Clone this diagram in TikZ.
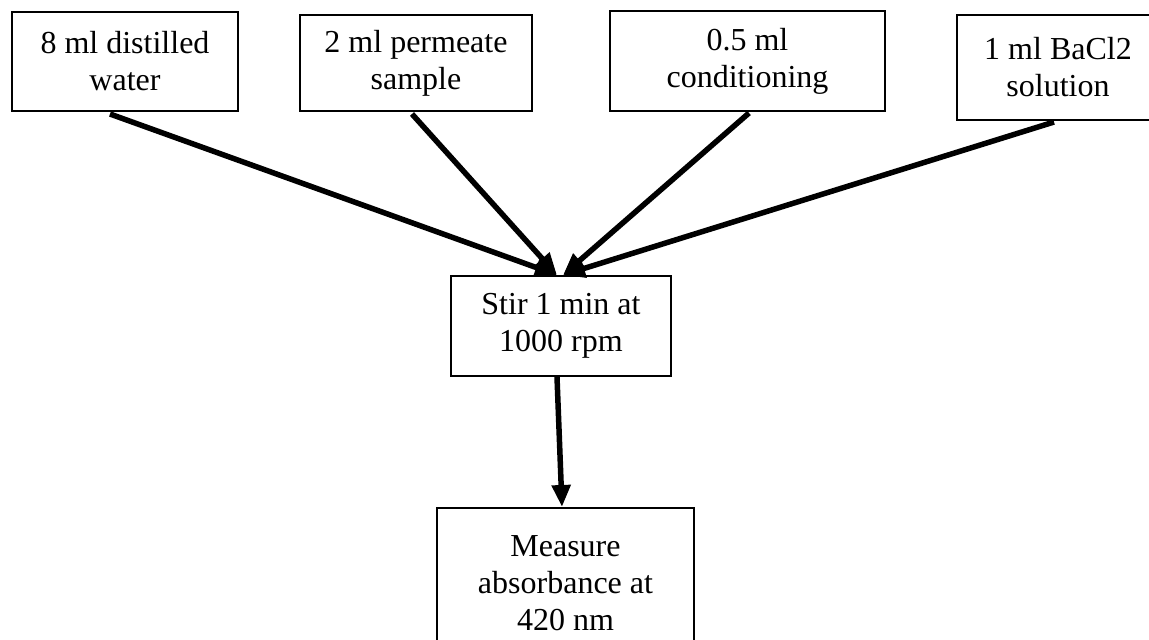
\documentclass[tikz,border=0pt]{standalone}
\usepackage{fontspec}
\setmainfont{Liberation Serif}
\usetikzlibrary{arrows.meta}

\begin{document}
\begin{tikzpicture}[x=1pt,y=-1pt,
  box/.style={draw,line width=2pt,align=center,inner sep=0pt,font=\fontsize{32}{37}\selectfont},
  flow/.style={line width=5.5pt,-{Triangle[length=22pt,width=18pt]}}]
  \useasboundingbox (0,0) rectangle (1149,640);
  % sample inputs
  \node[box,minimum width=226pt,minimum height=99pt] (water) at (125,61.5) {8 ml distilled\\water};
  \node[box,minimum width=232pt,minimum height=96pt] (permeate) at (416,63) {2 ml permeate\\sample};
  \node[box,minimum width=275pt,minimum height=100pt] (conditioning) at (747.5,61) {0.5 ml\\conditioning};
  \node[box,minimum width=202pt,minimum height=105pt] (bacl) at (1058,67.5) {1 ml BaCl2\\solution};
  % mixing and reading
  \node[box,minimum width=220pt,minimum height=100pt] (stir) at (561,326) {Stir 1 min at\\1000 rpm};
  \node[box,minimum width=257pt,minimum height=150pt] (measure) at (565.5,583) {Measure\\absorbance at\\420 nm};
  \draw[flow] ([xshift=-15pt,yshift=-2pt]water.south) -- ([xshift=-4pt]stir.north);
  \draw[flow] ([xshift=-4pt,yshift=-2pt]permeate.south) -- ([xshift=-4pt]stir.north);
  \draw[flow] ([xshift=1.5pt,yshift=-1pt]conditioning.south) -- ([xshift=2pt]stir.north);
  \draw[flow] ([xshift=-4pt,yshift=-1pt]bacl.south) -- ([xshift=2pt]stir.north);
  \draw[flow] ([xshift=-4pt]stir.south) -- ([xshift=-3.5pt]measure.north);
\end{tikzpicture}
\end{document}
